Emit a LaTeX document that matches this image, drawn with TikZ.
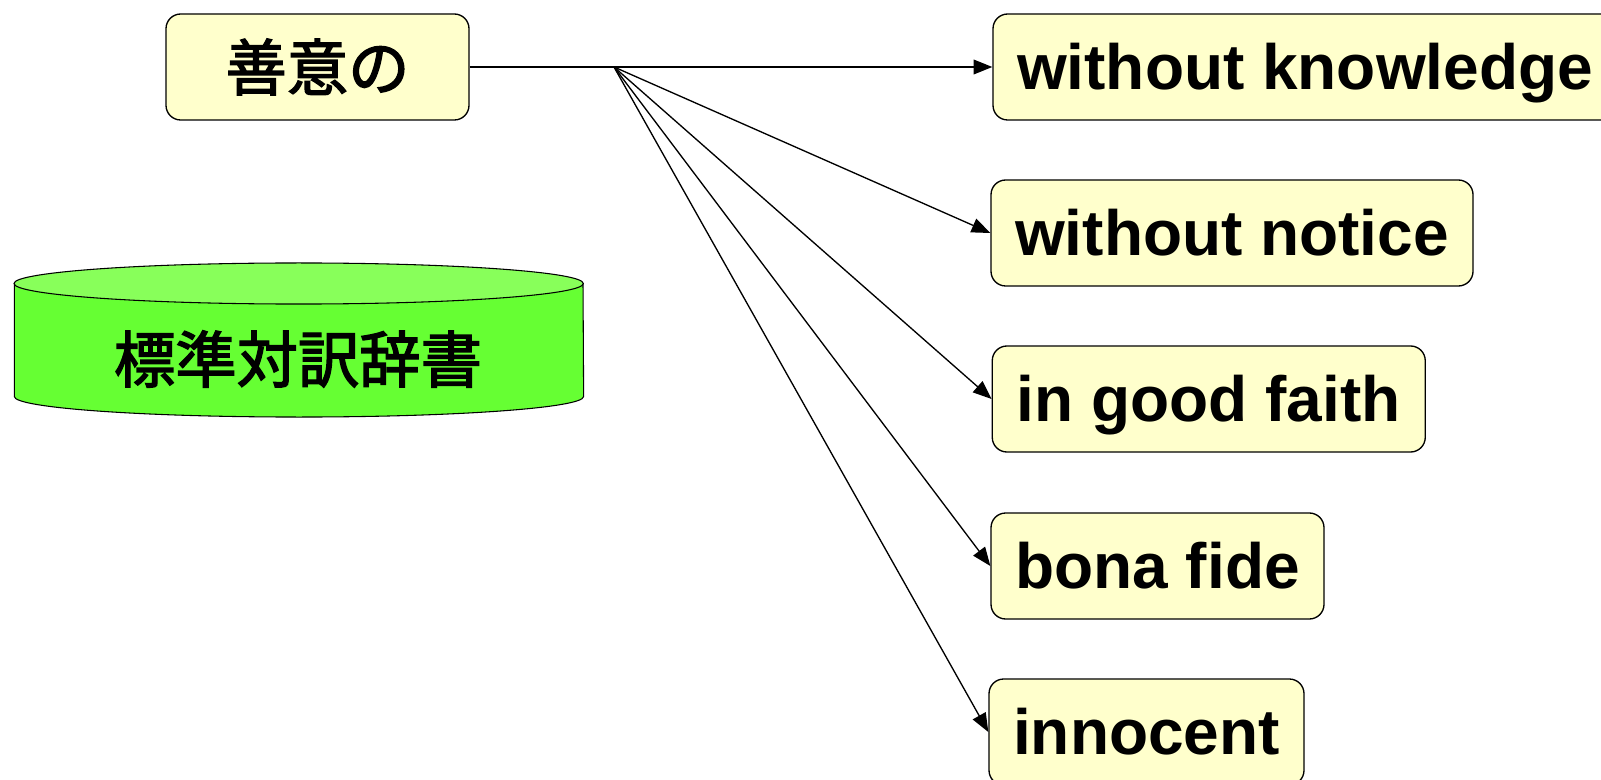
\documentclass[tikz,border=0pt]{standalone}
\usepackage{fontspec}
\setmainfont{Liberation Sans}
\newfontfamily\cjk{Noto Sans CJK JP}[FakeBold=2.3]
\usetikzlibrary{arrows.meta}
\definecolor{boxfill}{HTML}{FFFFCC}
\definecolor{cylbody}{HTML}{66FF33}
\definecolor{cyltop}{HTML}{88FF5A}
\tikzset{
  wbox/.style={draw=black, line width=1pt, fill=boxfill, rounded corners=11pt,
    minimum height=79.5pt, inner sep=0pt, text height=43.4pt, text depth=10.2pt,
    font=\fontsize{48}{48}\selectfont\bfseries},
  jbox/.style={draw=black, line width=1pt, fill=boxfill, rounded corners=11pt,
    minimum height=79.5pt, inner sep=0pt,
    font=\fontsize{46}{46}\selectfont\cjk},
  conn/.style={line width=1pt, draw=black},
  arr/.style={conn, -{Triangle[length=14pt,width=11pt]}},
  cyltext/.style={font=\fontsize{46}{46}\selectfont\cjk, inner sep=0pt}
}
\begin{document}
\begin{tikzpicture}[x=0.75pt,y=-0.75pt]
\useasboundingbox (0,0) rectangle (1601,780);
\clip (0,0) rectangle (1601,780);
\fill[white] (0,0) rectangle (1601,780);

% source box
\node[jbox, minimum width=227.25pt] (src) at (317.5,67) {善意の};
\coordinate (br) at (614,67);

% target boxes
\node[wbox, minimum width=468pt] (t1) at (1305,67) {without knowledge};
\node[wbox, minimum width=361.5pt] (t2) at (1232,233) {without notice};
\node[wbox, minimum width=324.75pt] (t3) at (1208.75,399) {in good faith};
\node[wbox, minimum width=249.75pt] (t4) at (1157.5,566) {bona fide};
\node[wbox, minimum width=236.25pt] (t5) at (1146.5,732) {innocent};

% connectors
\draw[conn] (src.east) -- (br);
\draw[arr] (br) -- (t1.west);
\draw[arr] (br) -- (t2.west);
\draw[arr] (br) -- (t3.west);
\draw[arr] (br) -- (t4.west);
\draw[arr] (br) -- (t5.west);

% cylinder (dictionary)
\fill[cylbody] (14.3,283.5) rectangle (583,396.5);
\fill[cylbody] (298.65,396.5) ellipse [x radius=213.5pt, y radius=15.4pt];
\draw[line width=0.8pt] (14.3,283.5) -- (14.3,396.5)
   arc[start angle=180, end angle=360, x radius=213.5pt, y radius=15.4pt]
   -- (583,283.5);
\filldraw[fill=cyltop, draw=black, line width=0.8pt] (298.65,283.5) ellipse [x radius=213.5pt, y radius=15.4pt];
\node[cyltext] (dict) at (298,359) {標準対訳辞書};
\end{tikzpicture}
\end{document}
